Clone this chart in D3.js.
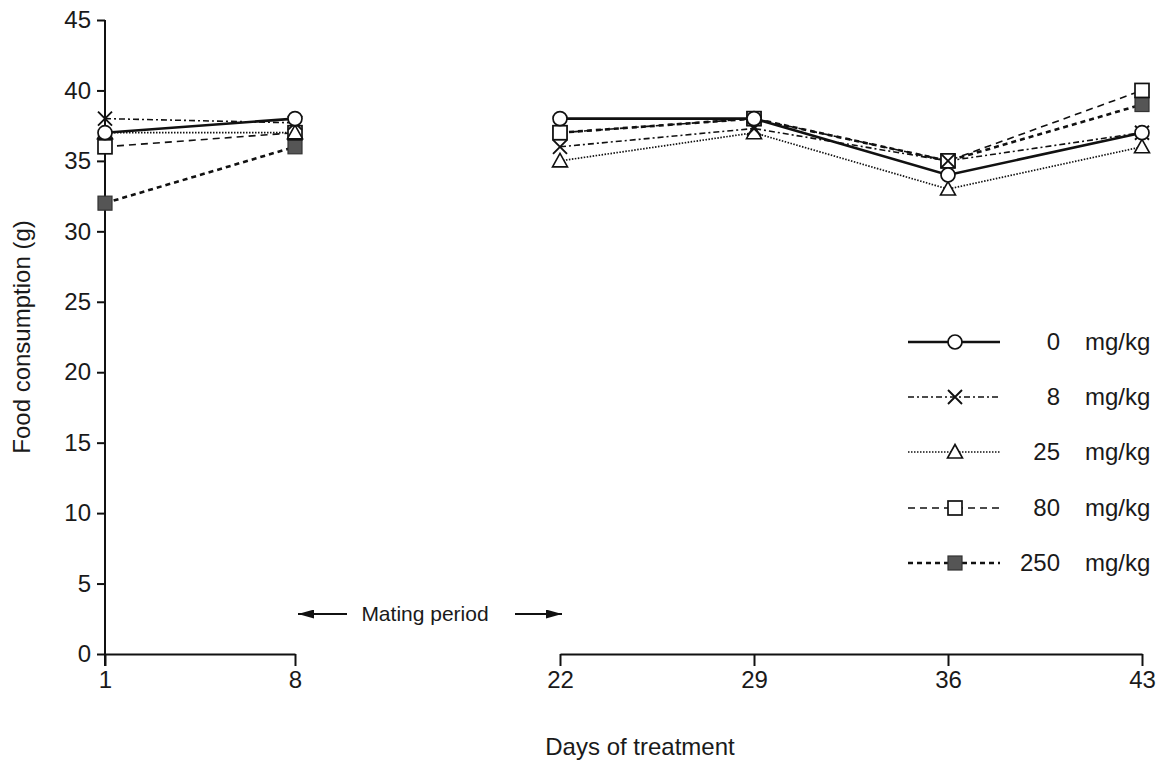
<!DOCTYPE html>
<html>
<head>
<meta charset="utf-8">
<script src="https://cdn.jsdelivr.net/npm/d3@7"></script>
<style>
  body { margin: 0; background: #fff; }
  svg text { font-family: "Liberation Sans", Arial, sans-serif; fill: #1a1a1a; }
</style>
</head>
<body>
<div id="chart"></div>
<script>
// data
var days = [1, 8, 22, 29, 36, 43];
var doseLabels = ["0", "8", "25", "80", "250"];
var dose0   = [37, 38, 38, 38, 34, 37];
var dose8   = [38, 37.7, 36, 37.3, 35, 37];
var dose25  = [37, 37, 35, 37, 33, 36];
var dose80  = [36, 37, 37, 38, 35, 40];
var dose250 = [32, 36, 37, 38, 35, 39];
var yTicks = [0, 5, 10, 15, 20, 25, 30, 35, 40, 45];
var leftDays = [1, 8];
var rightDays = [22, 29, 36, 43];

var width = 1173, height = 763;
var svg = d3.select("#chart").append("svg").attr("width", width).attr("height", height);

// scales (broken x axis)
var xLeft = d3.scaleLinear().domain([1, 8]).range([105, 295]);
var xRight = d3.scaleLinear().domain([22, 43]).range([560, 1142]);
var x = function(d) { return d <= 8 ? xLeft(d) : xRight(d); };
var y = d3.scaleLinear().domain([0, 45]).range([654, 20]);

var series = [
  { name: doseLabels[0], values: dose0,   marker: "circle",   dash: null,        width: 2.6 },
  { name: doseLabels[1], values: dose8,   marker: "cross",    dash: "6,3,2,3",   width: 1.6 },
  { name: doseLabels[2], values: dose25,  marker: "triangle", dash: "1.5,1.5",   width: 1.7 },
  { name: doseLabels[3], values: dose80,  marker: "square",   dash: "7,5",       width: 1.6 },
  { name: doseLabels[4], values: dose250, marker: "filled",   dash: "5,4",       width: 2.6 }
];

var fontStyle = "Liberation Sans, Arial, sans-serif";

// y axis
var yAxis = d3.axisLeft(y).tickValues(yTicks).tickSize(8).tickPadding(6);
var gy = svg.append("g").attr("transform", "translate(105,0)").call(yAxis);
gy.select(".domain").attr("stroke", "#111").attr("stroke-width", 2).attr("d", "M0,20V666");
gy.selectAll(".tick line").attr("stroke", "#111").attr("stroke-width", 2);
gy.selectAll(".tick text").attr("font-size", "24px").attr("fill", "#1a1a1a").style("font-family", fontStyle);

// x axis left segment
var gxl = svg.append("g").attr("transform", "translate(0,654)")
  .call(d3.axisBottom(xLeft).tickValues(leftDays).tickFormat(d3.format("d")).tickSize(12).tickPadding(5).tickSizeOuter(0));
// x axis right segment
var gxr = svg.append("g").attr("transform", "translate(0,654)")
  .call(d3.axisBottom(xRight).tickValues(rightDays).tickFormat(d3.format("d")).tickSize(12).tickPadding(5).tickSizeOuter(0));
[gxl, gxr].forEach(function(g) {
  g.select(".domain").attr("stroke", "#111").attr("stroke-width", 2);
  g.selectAll(".tick line").attr("stroke", "#111").attr("stroke-width", 2);
  g.selectAll(".tick text").attr("font-size", "24px").attr("fill", "#1a1a1a").style("font-family", fontStyle);
});

// axis titles
svg.append("text").attr("x", 640).attr("y", 755).attr("text-anchor", "middle")
  .attr("font-size", "24px").text("Days of treatment");
svg.append("text").attr("transform", "translate(30,337) rotate(-90)").attr("text-anchor", "middle")
  .attr("font-size", "24px").text("Food consumption (g)");

// mating period annotation
var arrowY = 614;
svg.append("defs").append("marker").attr("id", "arrowhead")
  .attr("viewBox", "0 0 16 9").attr("refX", 16).attr("refY", 4.5)
  .attr("markerWidth", 16).attr("markerHeight", 9).attr("markerUnits", "userSpaceOnUse")
  .attr("orient", "auto")
  .append("path").attr("d", "M0,0L16,4.5L0,9Z").attr("fill", "#111");
svg.append("line").attr("x1", 347).attr("y1", arrowY).attr("x2", 298).attr("y2", arrowY)
  .attr("stroke", "#111").attr("stroke-width", 2).attr("marker-end", "url(#arrowhead)");
svg.append("line").attr("x1", 515).attr("y1", arrowY).attr("x2", 562).attr("y2", arrowY)
  .attr("stroke", "#111").attr("stroke-width", 2).attr("marker-end", "url(#arrowhead)");
svg.append("text").attr("x", 425).attr("y", arrowY + 7).attr("text-anchor", "middle")
  .attr("font-size", "21px").text("Mating period");

// markers
function drawMarker(g, type, cx, cy) {
  if (type === "circle") {
    g.append("circle").attr("cx", cx).attr("cy", cy).attr("r", 7)
      .attr("fill", "#fff").attr("stroke", "#111").attr("stroke-width", 1.7);
  } else if (type === "cross") {
    var s = 7;
    g.append("path").attr("d", "M" + (cx - s) + "," + (cy - s) + "L" + (cx + s) + "," + (cy + s) +
      "M" + (cx + s) + "," + (cy - s) + "L" + (cx - s) + "," + (cy + s))
      .attr("stroke", "#111").attr("stroke-width", 1.9).attr("fill", "none");
  } else if (type === "triangle") {
    var t = 7.5;
    g.append("path").attr("d", "M" + cx + "," + (cy - t) + "L" + (cx + t) + "," + (cy + t * 0.8) +
      "L" + (cx - t) + "," + (cy + t * 0.8) + "Z")
      .attr("fill", "#fff").attr("stroke", "#111").attr("stroke-width", 1.6);
  } else if (type === "square") {
    g.append("rect").attr("x", cx - 7).attr("y", cy - 7).attr("width", 14).attr("height", 14)
      .attr("fill", "#fff").attr("stroke", "#111").attr("stroke-width", 1.7);
  } else if (type === "filled") {
    g.append("rect").attr("x", cx - 7).attr("y", cy - 7).attr("width", 14).attr("height", 14)
      .attr("fill", "#555").attr("stroke", "#333").attr("stroke-width", 1.2);
  }
}

var line = d3.line().x(function(d) { return x(d.day); }).y(function(d) { return y(d.v); });

// lines, drawn separately on each side of the axis break
series.forEach(function(s) {
  var pts = days.map(function(d, i) { return { day: d, v: s.values[i] }; });
  var segs = [pts.filter(function(p) { return p.day <= 8; }), pts.filter(function(p) { return p.day > 8; })];
  segs.forEach(function(seg) {
    svg.append("path").datum(seg).attr("d", line)
      .attr("fill", "none").attr("stroke", "#111")
      .attr("stroke-width", s.width)
      .attr("stroke-dasharray", s.dash);
  });
});

// points (reverse order so 0 mg/kg circles sit on top)
var pointsG = svg.append("g");
series.slice().reverse().forEach(function(s) {
  days.forEach(function(d, i) {
    drawMarker(pointsG, s.marker, x(d), y(s.values[i]));
  });
});

// legend
var legendY = [342, 397, 452, 508, 563];
var lg = svg.append("g");
series.forEach(function(s, i) {
  var ly = legendY[i];
  lg.append("line").attr("x1", 908).attr("x2", 1000).attr("y1", ly).attr("y2", ly)
    .attr("stroke", "#111").attr("stroke-width", s.width).attr("stroke-dasharray", s.dash);
  drawMarker(lg, s.marker, 955, ly);
  lg.append("text").attr("x", 1060).attr("y", ly + 8).attr("text-anchor", "end")
    .attr("font-size", "24px").text(s.name);
  lg.append("text").attr("x", 1085).attr("y", ly + 8).attr("text-anchor", "start")
    .attr("font-size", "24px").text("mg/kg");
});
</script>
</body>
</html>
